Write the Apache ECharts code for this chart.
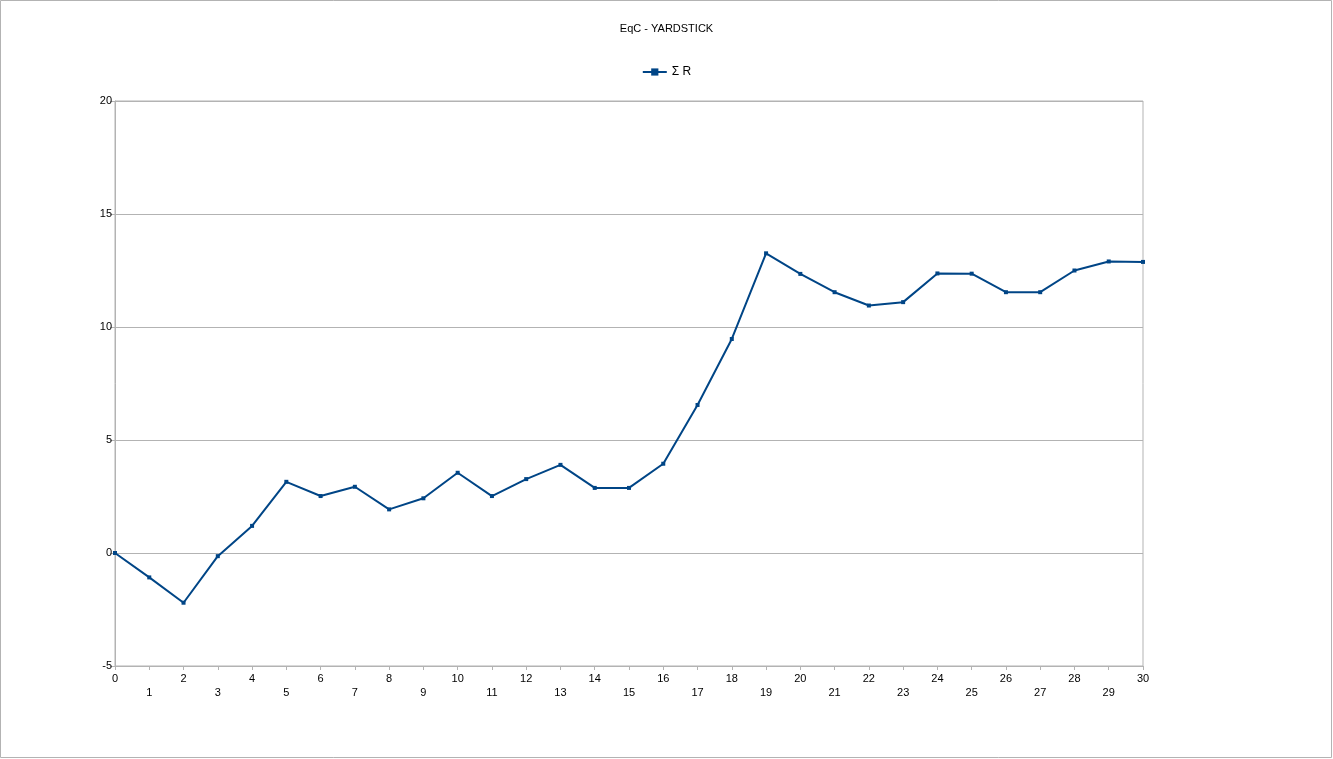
<!DOCTYPE html>
<html style="height: 100%">
	<head>
		<meta charset="utf-8">
	</head>
	<body style="height: 100%; margin: 0">
		<div id="container" style="height: 100%"></div>
		<script src="https://cdn.jsdelivr.net/npm/echarts@6/dist/echarts.min.js" type="text/javascript" charset="utf-8"></script>
		<script type="text/javascript">
			// 数据
			var steps = [0, 1, 2, 3, 4, 5, 6, 7, 8, 9, 10, 11, 12, 13, 14, 15, 16, 17, 18, 19, 20, 21, 22, 23, 24, 25, 26, 27, 28, 29, 30];
			var sumR = [0, -1.08, -2.2, -0.14, 1.2, 3.15, 2.52, 2.93, 1.93, 2.42, 3.55, 2.52, 3.27, 3.9, 2.88, 2.88, 3.95,
				6.55, 9.47, 13.26, 12.35, 11.54, 10.95, 11.1, 12.37, 12.36, 11.54, 11.54, 12.5, 12.9, 12.88];
			var yTicks = [-5, 0, 5, 10, 15, 20];

			var seriesData = [];
			for (var i = 0; i < steps.length; i++) {
				seriesData.push([steps[i], sumR[i]]);
			}

			var myChart = echarts.init(document.getElementById('container'));
			var option = {
				backgroundColor: '#fff',
				textStyle: {
					fontFamily: 'Liberation Sans, Arial, sans-serif'
				},
				title: {
					text: 'EqC - YARDSTICK',
					left: 'center',
					top: 18,
					textStyle: {
						color: '#000',
						fontSize: 11,
						fontWeight: 'normal'
					}
				},
				legend: {
					top: 61,
					left: 'center',
					itemWidth: 24,
					itemHeight: 9,
					itemGap: 5,
					textStyle: {
						color: '#000',
						fontSize: 12
					},
					data: ['Σ R']
				},
				graphic: [{
					type: 'rect',
					shape: { x: 0.5, y: 0.5, width: 1331, height: 757 },
					style: { fill: 'none', stroke: '#b3b3b3', lineWidth: 1 },
					silent: true
				}],
				grid: {
					left: 115,
					right: 190,
					top: 101,
					bottom: 93,
					show: true,
					borderColor: '#b3b3b3',
					borderWidth: 1
				},
				xAxis: {
					type: 'value',
					min: 0,
					max: 30,
					interval: 1,
					axisLine: { show: true, onZero: false, lineStyle: { color: '#b3b3b3' } },
					axisTick: { show: true, length: 4, lineStyle: { color: '#b3b3b3' } },
					splitLine: { show: false },
					axisLabel: {
						color: '#000',
						fontSize: 11,
						margin: 6,
						lineHeight: 14,
						formatter: function (v) {
							return v % 2 ? '\n' + v : '' + v;
						}
					}
				},
				yAxis: {
					type: 'value',
					min: yTicks[0],
					max: yTicks[yTicks.length - 1],
					interval: 5,
					axisLine: { show: true, lineStyle: { color: '#b3b3b3' } },
					axisTick: { show: true, length: 5, lineStyle: { color: '#b3b3b3' } },
					splitLine: { show: true, lineStyle: { color: '#b3b3b3' } },
					axisLabel: {
						color: '#000',
						fontSize: 11,
						margin: 3
					}
				},
				series: [{
					name: 'Σ R',
					type: 'line',
					data: seriesData,
					symbol: 'rect',
					symbolSize: 4,
					showAllSymbol: true,
					animation: false,
					lineStyle: { color: '#004586', width: 2 },
					itemStyle: { color: '#004586' }
				}]
			};
			myChart.setOption(option);
		</script>
	</body>
</html>
